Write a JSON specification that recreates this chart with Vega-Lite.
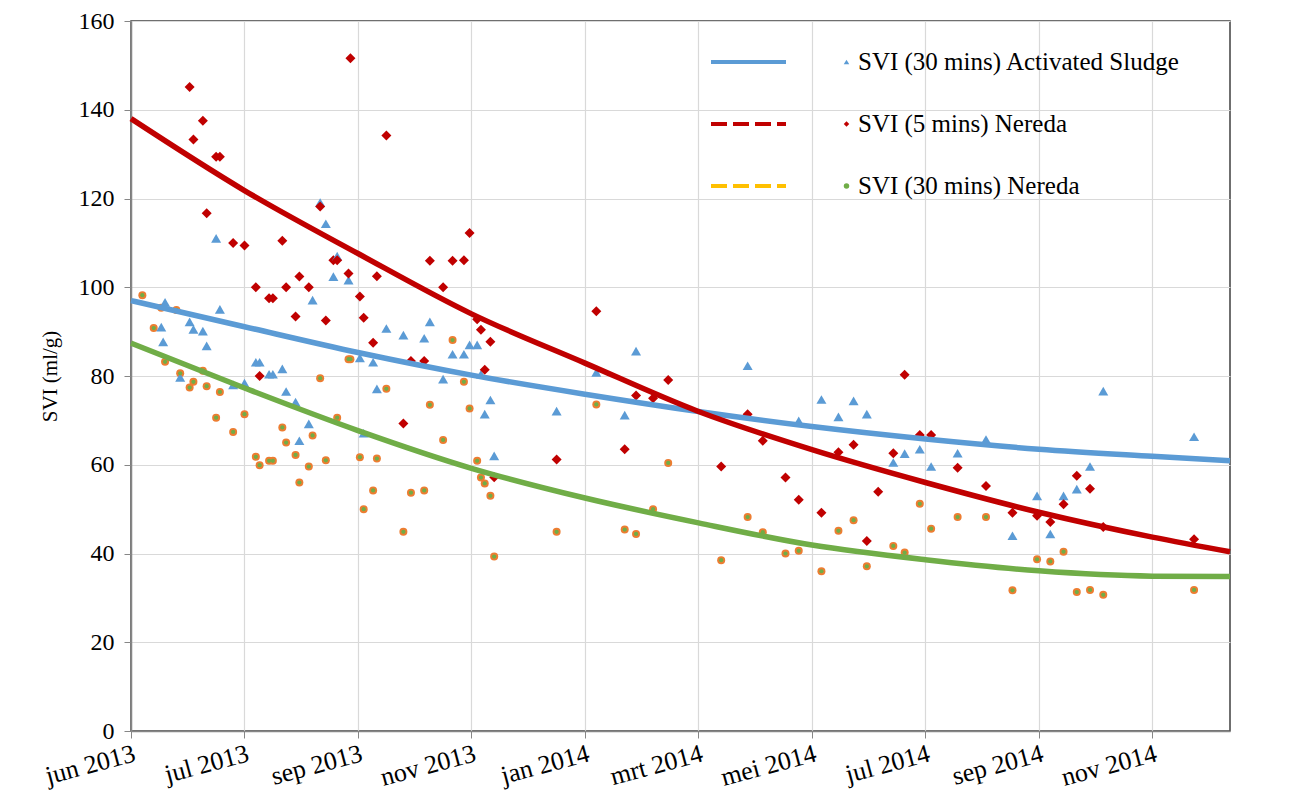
{
  "$schema": "https://vega.github.io/schema/vega-lite/v6.json",
  "width": 1099,
  "height": 710,
  "autosize": {"type": "none"},
  "padding": {"left": 131, "top": 21, "right": 64, "bottom": 78},
  "background": "white",
  "config": {
    "font": "Liberation Serif",
    "view": {"stroke": "#404040", "strokeWidth": 1.5},
    "axis": {
      "labelFont": "Liberation Serif",
      "labelFontSize": 24,
      "labelColor": "black",
      "titleFont": "Liberation Serif",
      "titleFontSize": 21,
      "titleFontWeight": "normal",
      "titleColor": "black",
      "domainColor": "#868686",
      "domainWidth": 1.5,
      "tickColor": "#868686",
      "tickSize": 7,
      "gridColor": "#D9D9D9",
      "gridWidth": 1.2
    },
    "legend": {"labelFont": "Liberation Serif", "labelColor": "black", "padding": 0, "labelLimit": 0}
  },
  "datasets": {
    "pts": [
      {"d": "2013-06-07", "n30": 98.2},
      {"d": "2013-06-13", "n30": 90.8},
      {"d": "2013-06-17", "as": 91.0, "n30": 95.4},
      {"d": "2013-06-18", "as": 87.7},
      {"d": "2013-06-19", "as": 96.6, "n30": 83.2},
      {"d": "2013-06-25", "n30": 94.9},
      {"d": "2013-06-27", "as": 79.7, "n30": 80.6},
      {"d": "2013-07-02", "as": 92.2, "n5": 145.1, "n30": 77.4},
      {"d": "2013-07-04", "as": 90.5, "n5": 133.3, "n30": 78.7},
      {"d": "2013-07-09", "as": 90.1, "n5": 137.5, "n30": 81.2},
      {"d": "2013-07-11", "as": 86.8, "n5": 116.7, "n30": 77.7},
      {"d": "2013-07-16", "as": 111.0, "n5": 129.4, "n30": 70.6},
      {"d": "2013-07-18", "as": 95.0, "n5": 129.4, "n30": 76.4},
      {"d": "2013-07-25", "as": 78.0, "n5": 110.0, "n30": 67.4},
      {"d": "2013-07-31", "as": 78.4, "n5": 109.4, "n30": 71.4},
      {"d": "2013-08-06", "as": 83.1, "n5": 100.0, "n30": 61.8},
      {"d": "2013-08-08", "as": 83.1, "n5": 80.0, "n30": 59.9},
      {"d": "2013-08-13", "as": 80.4, "n5": 97.5, "n30": 60.9},
      {"d": "2013-08-15", "as": 80.4, "n5": 97.5, "n30": 60.9},
      {"d": "2013-08-20", "as": 81.6, "n5": 110.5, "n30": 68.4},
      {"d": "2013-08-22", "as": 76.5, "n5": 100.0, "n30": 65.0},
      {"d": "2013-08-27", "as": 74.1, "n5": 93.4, "n30": 62.2},
      {"d": "2013-08-29", "as": 65.4, "n5": 102.4, "n30": 56.0},
      {"d": "2013-09-03", "as": 69.2, "n5": 100.0, "n30": 59.6},
      {"d": "2013-09-05", "as": 97.1, "n30": 66.6},
      {"d": "2013-09-09", "as": 119.1, "n5": 118.2, "n30": 79.5},
      {"d": "2013-09-12", "as": 114.3, "n5": 92.5, "n30": 61.0},
      {"d": "2013-09-16", "as": 102.4, "n5": 106.1},
      {"d": "2013-09-18", "as": 107.0, "n5": 106.1, "n30": 70.6},
      {"d": "2013-09-24", "as": 101.6, "n5": 103.1, "n30": 83.8},
      {"d": "2013-09-25", "n5": 151.6, "n30": 83.8},
      {"d": "2013-09-30", "as": 84.1, "n5": 97.9, "n30": 61.7},
      {"d": "2013-10-02", "as": 67.1, "n5": 93.1, "n30": 50.0},
      {"d": "2013-10-07", "as": 83.1, "n5": 87.5, "n30": 54.2},
      {"d": "2013-10-09", "as": 77.1, "n5": 102.5, "n30": 61.4},
      {"d": "2013-10-14", "as": 90.7, "n5": 134.2, "n30": 77.1},
      {"d": "2013-10-23", "as": 89.2, "n5": 69.3, "n30": 44.9},
      {"d": "2013-10-27", "n5": 83.4, "n30": 53.7},
      {"d": "2013-11-03", "as": 88.5, "n5": 83.4, "n30": 54.2},
      {"d": "2013-11-06", "as": 92.2, "n5": 106.0, "n30": 73.5},
      {"d": "2013-11-13", "as": 79.3, "n5": 100.0, "n30": 65.6},
      {"d": "2013-11-18", "as": 84.9, "n5": 106.0, "n30": 88.1},
      {"d": "2013-11-24", "as": 84.9, "n5": 106.1, "n30": 78.7},
      {"d": "2013-11-27", "as": 87.0, "n5": 112.2, "n30": 72.7},
      {"d": "2013-12-01", "as": 87.0, "n5": 92.8, "n30": 60.9},
      {"d": "2013-12-03", "as": 80.4, "n5": 90.4, "n30": 57.1},
      {"d": "2013-12-05", "as": 71.4, "n5": 81.4, "n30": 55.8},
      {"d": "2013-12-08", "as": 74.6, "n5": 87.7, "n30": 53.0},
      {"d": "2013-12-10", "as": 62.0, "n5": 57.2, "n30": 39.3},
      {"d": "2014-01-12", "as": 72.1, "n5": 61.2, "n30": 44.9},
      {"d": "2014-02-02", "as": 80.8, "n5": 94.6, "n30": 73.6},
      {"d": "2014-02-17", "as": 71.2, "n5": 63.5, "n30": 45.4},
      {"d": "2014-02-23", "as": 85.6, "n5": 75.6, "n30": 44.4},
      {"d": "2014-03-04", "n5": 75.0, "n30": 50.0},
      {"d": "2014-03-12", "n5": 79.1, "n30": 60.4},
      {"d": "2014-04-09", "n5": 59.6, "n30": 38.5},
      {"d": "2014-04-23", "as": 82.3, "n5": 71.4, "n30": 48.2},
      {"d": "2014-05-01", "n5": 65.4, "n30": 44.8},
      {"d": "2014-05-13", "n5": 57.1, "n30": 40.0},
      {"d": "2014-05-20", "as": 69.9, "n5": 52.1, "n30": 40.6},
      {"d": "2014-06-01", "as": 74.7, "n5": 49.2, "n30": 36.0},
      {"d": "2014-06-10", "as": 70.8, "n5": 62.8, "n30": 45.1},
      {"d": "2014-06-18", "as": 74.4, "n5": 64.5, "n30": 47.5},
      {"d": "2014-06-25", "as": 71.4, "n5": 42.8, "n30": 37.1},
      {"d": "2014-07-01", "n5": 53.9},
      {"d": "2014-07-09", "as": 60.5, "n5": 62.6, "n30": 41.7},
      {"d": "2014-07-15", "as": 62.5, "n5": 80.3, "n30": 40.2},
      {"d": "2014-07-23", "as": 63.5, "n5": 66.7, "n30": 51.2},
      {"d": "2014-07-29", "as": 59.6, "n5": 66.7, "n30": 45.6},
      {"d": "2014-08-12", "as": 62.6, "n5": 59.3, "n30": 48.2},
      {"d": "2014-08-27", "as": 65.7, "n5": 55.2, "n30": 48.2},
      {"d": "2014-09-10", "as": 44.0, "n5": 49.2, "n30": 31.7},
      {"d": "2014-09-23", "as": 53.0, "n5": 48.5, "n30": 38.7},
      {"d": "2014-09-30", "as": 44.4, "n5": 47.1, "n30": 38.2},
      {"d": "2014-10-07", "as": 53.0, "n5": 51.1, "n30": 40.4},
      {"d": "2014-10-14", "as": 54.5, "n5": 57.5, "n30": 31.3},
      {"d": "2014-10-21", "as": 59.6, "n5": 54.6, "n30": 31.8},
      {"d": "2014-10-28", "as": 76.6, "n5": 46.0, "n30": 30.7},
      {"d": "2014-12-15", "as": 66.3, "n5": 43.2, "n30": 31.8}
    ],
    "trend": [
      {"d": "2013-06-01", "s": "as_t", "v": 97.0},
      {"d": "2013-07-31", "s": "as_t", "v": 91.1},
      {"d": "2013-09-29", "s": "as_t", "v": 85.3},
      {"d": "2013-11-28", "s": "as_t", "v": 80.2},
      {"d": "2014-01-27", "s": "as_t", "v": 75.9},
      {"d": "2014-03-28", "s": "as_t", "v": 72.0},
      {"d": "2014-05-27", "s": "as_t", "v": 68.6},
      {"d": "2014-07-26", "s": "as_t", "v": 65.8},
      {"d": "2014-09-24", "s": "as_t", "v": 63.5},
      {"d": "2014-11-23", "s": "as_t", "v": 61.9},
      {"d": "2015-01-03", "s": "as_t", "v": 60.9},
      {"d": "2013-06-01", "s": "n5_t", "v": 138.0},
      {"d": "2013-07-31", "s": "n5_t", "v": 121.8},
      {"d": "2013-09-29", "s": "n5_t", "v": 107.6},
      {"d": "2013-11-28", "s": "n5_t", "v": 94.0},
      {"d": "2014-01-27", "s": "n5_t", "v": 82.9},
      {"d": "2014-03-28", "s": "n5_t", "v": 72.0},
      {"d": "2014-05-27", "s": "n5_t", "v": 63.4},
      {"d": "2014-07-26", "s": "n5_t", "v": 56.0},
      {"d": "2014-09-24", "s": "n5_t", "v": 49.3},
      {"d": "2014-11-23", "s": "n5_t", "v": 43.7},
      {"d": "2015-01-03", "s": "n5_t", "v": 40.4},
      {"d": "2013-06-01", "s": "n30_t", "v": 87.4},
      {"d": "2013-07-31", "s": "n30_t", "v": 77.3},
      {"d": "2013-09-29", "s": "n30_t", "v": 67.7},
      {"d": "2013-11-28", "s": "n30_t", "v": 59.2},
      {"d": "2014-01-27", "s": "n30_t", "v": 52.5},
      {"d": "2014-03-28", "s": "n30_t", "v": 46.9},
      {"d": "2014-05-27", "s": "n30_t", "v": 41.9},
      {"d": "2014-07-26", "s": "n30_t", "v": 38.6},
      {"d": "2014-09-24", "s": "n30_t", "v": 36.1},
      {"d": "2014-11-23", "s": "n30_t", "v": 34.9},
      {"d": "2015-01-03", "s": "n30_t", "v": 34.8}
    ]
  },
  "encoding": {
    "x": {
      "field": "d",
      "type": "temporal",
      "scale": {"type": "utc", "domain": [1370044800000, 1420243200000], "nice": false},
      "axis": {
        "title": null,
        "values": [1370044800000, 1375228800000, 1380412800000, 1385596800000, 1390780800000, 1395964800000, 1401148800000, 1406332800000, 1411516800000, 1416700800000],
        "labelExpr": "['jan','feb','mrt','apr','mei','jun','jul','aug','sep','okt','nov','dec'][utcmonth(datum.value)] + ' ' + utcyear(datum.value)",
        "labelAngle": -15,
        "labelFontSize": 26,
        "labelAlign": "right",
        "labelBaseline": "top",
        "labelPadding": 2,
        "grid": true
      }
    },
    "y": {
      "field": "v",
      "type": "quantitative",
      "scale": {"domain": [0, 160], "nice": false},
      "axis": {
        "title": "SVI (ml/g)",
        "values": [0, 20, 40, 60, 80, 100, 120, 140, 160],
        "labelPadding": 10,
        "titlePadding": 18,
        "grid": true
      }
    }
  },
  "layer": [
    {
      "data": {"name": "pts", "format": {"parse": {"d": "date"}}},
      "transform": [
        {"fold": ["n30"], "as": ["s", "v"]},
        {"filter": "isValid(datum.v)"}
      ],
      "mark": {"type": "point", "shape": "circle", "filled": true, "color": "#ED7D31", "opacity": 1, "size": 64}
    },
    {
      "data": {"name": "pts", "format": {"parse": {"d": "date"}}},
      "transform": [
        {"fold": ["as", "n5", "n30"], "as": ["s", "v"]},
        {"filter": "isValid(datum.v)"}
      ],
      "mark": {"type": "point", "filled": true, "opacity": 1, "strokeWidth": 0},
      "encoding": {
        "fill": {
          "field": "s",
          "type": "nominal",
          "scale": {"domain": ["as", "n5", "n30"], "range": ["#5B9BD5", "#C00000", "#70AD47"]},
          "legend": {
            "orient": "none",
            "legendX": 703,
            "legendY": 10,
            "title": null,
            "labelFont": "Liberation Serif",
            "labelFontSize": 25,
            "labelOffset": -1,
            "labelLimit": 0,
            "symbolSize": 30,
            "clipHeight": 62,
            "rowPadding": 0,
            "labelExpr": "datum.value == 'as' ? 'SVI (30 mins) Activated Sludge' : datum.value == 'n5' ? 'SVI (5 mins) Nereda' : 'SVI (30 mins) Nereda'",
            "encode": {
              "symbols": {
                "update": {
                  "stroke": {"signal": "datum.value == 'n30' ? '#ED7D31' : 'transparent'"},
                  "strokeWidth": {"value": 1.5}
                }
              }
            }
          }
        },
        "shape": {
          "field": "s",
          "type": "nominal",
          "scale": {"domain": ["as", "n5", "n30"], "range": ["triangle-up", "diamond", "circle"]},
          "legend": {
            "orient": "none",
            "legendX": 703,
            "legendY": 10,
            "title": null,
            "labelFont": "Liberation Serif",
            "labelFontSize": 25,
            "labelOffset": -1,
            "labelLimit": 0,
            "symbolSize": 30,
            "clipHeight": 62,
            "rowPadding": 0,
            "labelExpr": "datum.value == 'as' ? 'SVI (30 mins) Activated Sludge' : datum.value == 'n5' ? 'SVI (5 mins) Nereda' : 'SVI (30 mins) Nereda'"
          }
        },
        "size": {
          "condition": {"test": "datum.s == 'n30'", "value": 18},
          "value": 100
        }
      }
    },
    {
      "data": {"name": "trend", "format": {"parse": {"d": "date"}}},
      "transform": [{"filter": "datum.s != 'n30_t'"}],
      "mark": {"type": "line", "strokeWidth": 5.5, "interpolate": "monotone"},
      "encoding": {
        "stroke": {
          "field": "s",
          "type": "nominal",
          "scale": {"domain": ["as_t", "n5_t", "n30_t"], "range": ["#5B9BD5", "#C00000", "#FFC000"]},
          "legend": {
            "orient": "none",
            "legendX": 578,
            "legendY": 10,
            "title": null,
            "symbolType": "stroke",
            "symbolSize": 5625,
            "symbolStrokeWidth": 4,
            "clipHeight": 62,
            "rowPadding": 0,
            "labelExpr": "''",
            "labelFontSize": 24,
            "encode": {
              "symbols": {
                "update": {
                  "strokeDash": {"signal": "datum.value == 'as_t' ? [1, 0] : [16, 6]"}
                }
              }
            }
          }
        }
      }
    },
    {
      "data": {"name": "trend", "format": {"parse": {"d": "date"}}},
      "transform": [{"filter": "datum.s == 'n30_t'"}],
      "mark": {"type": "line", "strokeWidth": 5.5, "interpolate": "monotone", "color": "#70AD47"}
    }
  ]
}
